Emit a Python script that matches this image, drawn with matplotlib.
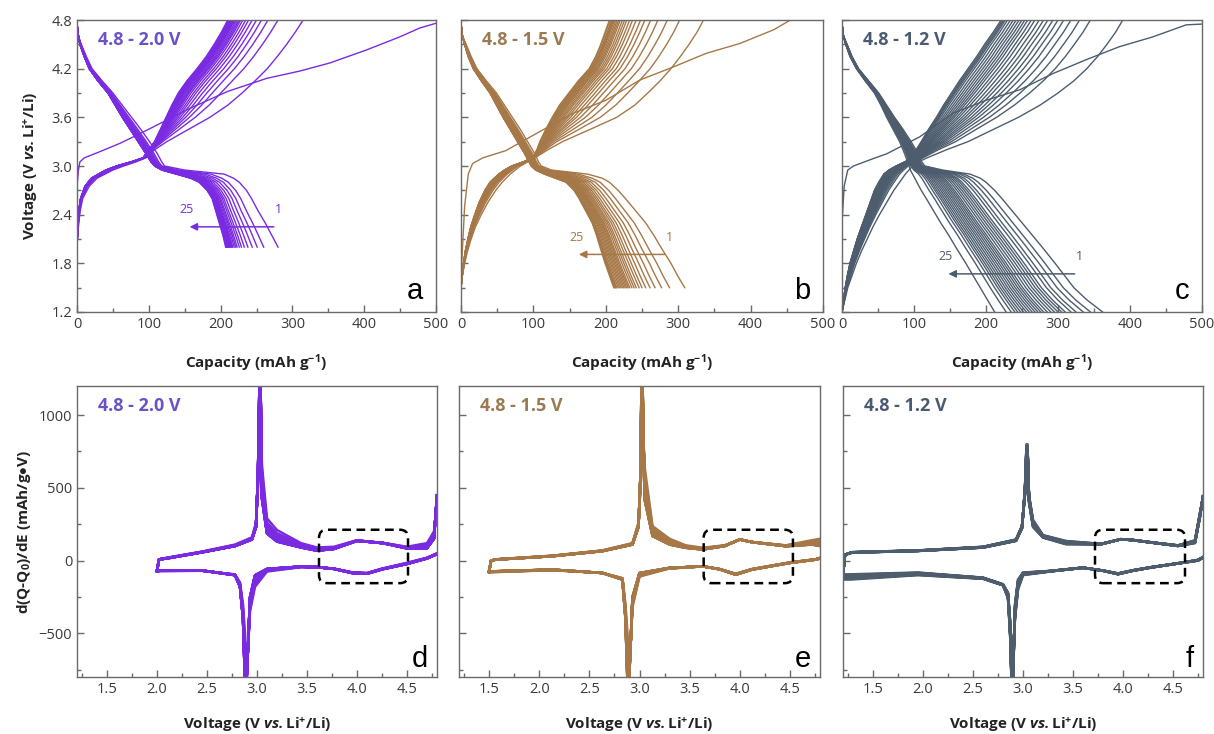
import numpy as np
import matplotlib
matplotlib.use("Agg")
import matplotlib.pyplot as plt
from matplotlib.patches import FancyBboxPatch
from matplotlib.ticker import MultipleLocator, FormatStrFormatter

plt.rcParams['font.family'] = ['Open Sans', 'DejaVu Sans']
plt.rcParams['mathtext.fontset'] = 'custom'
plt.rcParams['mathtext.rm'] = 'Open Sans'
plt.rcParams['mathtext.bf'] = 'Open Sans:bold'
plt.rcParams['mathtext.it'] = 'Open Sans:italic'
plt.rcParams['mathtext.bfit'] = 'Open Sans:italic:bold'

# ---- panel a: 4.8 - 2.0 V, capacity curves ----
a_first_cap = [0, 2, 4, 10, 30, 60, 97, 157, 210, 264, 310, 352, 403, 449, 477, 500]
a_first_v = [2.74, 2.95, 3.05, 3.10, 3.17, 3.28, 3.44, 3.71, 3.92, 4.08, 4.17, 4.27, 4.43, 4.59, 4.70, 4.76]
a_chg_v = [2.0, 2.15, 2.3, 2.45, 2.6, 2.75, 2.85, 2.95, 3.0, 3.05, 3.1, 3.2,
           3.3, 3.45, 3.6, 3.75, 3.9, 4.05, 4.2, 4.35, 4.5, 4.65, 4.8]
a_chg_early = [0, 1, 2.5, 4.5, 8, 17, 28, 50, 65, 82, 96, 108,
               125, 155, 185, 210, 230, 248, 265, 279, 292, 304, 315]
a_chg_late = [0, 0.5, 1.2, 2.5, 5, 11, 20, 40, 55, 75, 92, 100,
              108, 116, 124, 132, 141, 153, 167, 180, 191, 201, 210]
a_chg_end = [315, 280, 266, 257, 250, 244, 239, 235, 231, 228, 226, 224,
             222, 220, 219, 218, 217, 216, 215, 214, 213, 212, 211, 210]
a_dis_v = [4.75, 4.6, 4.5, 4.35, 4.2, 4.05, 3.9, 3.75, 3.6, 3.45, 3.3, 3.15,
           3.05, 3.0, 2.95, 2.9, 2.85, 2.8, 2.7, 2.6, 2.45, 2.3, 2.15, 2.0]
a_dis_first = [0, 2, 6, 13, 21, 35, 50, 63, 76, 89, 101, 112,
               118, 122, 150, 205, 218, 226, 236, 243, 252, 262, 271, 280]
a_dis_last = [0, 2, 4, 10, 17, 29, 43, 53, 63, 74, 85, 96,
              103, 108, 118, 138, 158, 170, 181, 188, 193, 198, 203, 207]
a_dis_end = [280, 260, 251, 244, 238, 233, 229, 226, 223, 221, 219, 217, 216,
             215, 214, 213, 212, 211, 210, 210, 209, 209, 208, 208, 207]

# ---- panel b: 4.8 - 1.5 V ----
b_first_cap = [0, 5, 10, 16, 30, 62, 108, 155, 200, 247, 293, 339, 385, 432, 455]
b_first_v = [1.63, 2.5, 2.9, 3.03, 3.1, 3.19, 3.42, 3.65, 3.81, 4.06, 4.22, 4.39, 4.51, 4.68, 4.8]
b_chg_v = [1.5, 1.65, 1.8, 1.95, 2.1, 2.25, 2.4, 2.55, 2.7, 2.8, 2.9, 2.95, 3.0, 3.05,
           3.1, 3.2, 3.3, 3.45, 3.6, 3.75, 3.9, 4.05, 4.2, 4.35, 4.5, 4.65, 4.8]
b_chg_early = [0, 2, 5, 9, 14, 20, 28, 37, 48, 57, 68, 75, 82, 92,
               102, 120, 140, 178, 215, 240, 258, 275, 290, 303, 315, 326, 335]
b_chg_late = [0, 1.5, 3.5, 6, 9.5, 13.5, 19, 25, 33, 40, 52, 60, 70, 86,
              99, 105, 109, 117, 126, 136, 149, 162, 177, 186, 193, 199, 205]
b_chg_end = [335, 302, 285, 272, 262, 254, 248, 242, 237, 233, 229, 226,
             223, 220, 218, 216, 214, 212, 211, 210, 209, 208, 206, 205]
b_dis_v = [4.75, 4.6, 4.5, 4.35, 4.2, 4.05, 3.9, 3.75, 3.6, 3.45, 3.3, 3.15, 3.05, 3.0,
           2.95, 2.9, 2.85, 2.8, 2.7, 2.6, 2.45, 2.3, 2.15, 2.0, 1.8, 1.65, 1.5]
b_dis_first = [0, 2, 7, 14, 22, 35, 49, 60, 71, 82, 92, 102, 107, 111,
               125, 175, 195, 205, 217, 227, 241, 255, 266, 276, 290, 299, 309]
b_dis_last = [0, 2, 5, 10, 17, 28, 40, 49, 58, 68, 78, 88, 94, 97,
              103, 115, 130, 145, 156, 163, 172, 181, 187, 192, 199, 205, 211]
b_dis_end = [309, 288, 277, 268, 261, 255, 250, 246, 242, 239, 236, 233, 231,
             229, 227, 225, 223, 221, 219, 217, 215, 214, 213, 212, 211]

# ---- panel c: 4.8 - 1.2 V ----
c_first_cap = [0, 3, 8, 16, 40, 62, 108, 154, 200, 247, 293, 339, 385, 431, 478, 500]
c_first_v = [2.3, 2.75, 2.95, 3.0, 3.08, 3.15, 3.36, 3.65, 3.81, 3.94, 4.14, 4.31, 4.47, 4.59, 4.74, 4.75]
c_chg_v = [1.2, 1.35, 1.5, 1.65, 1.8, 1.95, 2.1, 2.25, 2.4, 2.55, 2.7, 2.8, 2.9, 2.95, 3.0,
           3.05, 3.1, 3.2, 3.3, 3.45, 3.6, 3.75, 3.9, 4.05, 4.2, 4.35, 4.5, 4.65, 4.8]
c_chg_early = [0, 4, 8, 14, 20, 27, 35, 43, 52, 62, 72, 80, 88, 93, 98,
               106, 118, 145, 175, 210, 245, 275, 300, 322, 340, 355, 368, 380, 390]
c_chg_late = [0, 2, 4.5, 7.5, 11, 16, 21, 27, 33, 39, 45, 51, 58, 65, 75,
              87, 97, 103, 110, 120, 131, 141, 152, 163, 175, 187, 198, 210, 221]
c_chg_end = [390, 345, 330, 318, 308, 300, 293, 286, 280, 274, 268, 263,
             258, 254, 250, 246, 242, 238, 234, 230, 227, 225, 223, 221]
c_dis_v = [4.75, 4.6, 4.5, 4.35, 4.2, 4.05, 3.9, 3.75, 3.6, 3.45, 3.3, 3.15, 3.05, 3.0, 2.95,
           2.9, 2.85, 2.8, 2.7, 2.6, 2.45, 2.3, 2.15, 2.0, 1.8, 1.65, 1.5, 1.35, 1.2]
c_dis_first = [0, 2, 7, 14, 23, 37, 51, 62, 73, 85, 96, 106, 111, 115, 140,
               178, 192, 200, 212, 222, 236, 250, 264, 278, 296, 309, 322, 340, 362]
c_dis_last = [0, 2, 5, 11, 20, 32, 45, 54, 62, 71, 80, 87, 91, 93, 95,
              98, 101, 104, 110, 117, 127, 137, 148, 158, 172, 182, 192, 202, 212]
c_dis_end = [362, 345, 335, 325, 318, 310, 305, 300, 295, 290, 285, 280, 276,
             272, 268, 264, 260, 256, 252, 248, 244, 240, 235, 228, 212]

# ---- panel d: dQ/dV, 4.8 - 2.0 V ----
d_chg_v = [2.0, 2.02, 2.1, 2.45, 2.78, 2.95, 2.99, 3.01, 3.025, 3.035, 3.05, 3.1,
           3.2, 3.44, 3.6, 3.77, 4.0, 4.1, 4.26, 4.5, 4.7, 4.77, 4.8]
d_chg_late = [-70, 8, 15, 57, 100, 145, 230, 600, 1250, 1250, 420, 185,
              130, 90, 68, 80, 136, 130, 120, 84, 85, 150, 450]
d_chg_early = [-70, 8, 20, 62, 110, 160, 260, 500, 950, 1000, 650, 290,
               210, 120, 90, 95, 140, 132, 122, 95, 120, 200, 400]
d_dis_v = [4.8, 4.7, 4.5, 4.25, 4.1, 3.95, 3.77, 3.6, 3.44, 3.1, 2.98, 2.93, 2.91,
           2.895, 2.88, 2.86, 2.83, 2.78, 2.45, 2.03, 2.0]
d_dis_late = [45, 15, -23, -60, -90, -85, -57, -45, -41, -57, -100, -250, -600,
              -850, -850, -400, -180, -100, -68, -68, -70]
d_dis_early = [50, 20, -15, -55, -85, -80, -55, -45, -45, -75, -180, -350, -600,
               -700, -500, -300, -150, -95, -70, -72, -74]

# ---- panel e: dQ/dV, 4.8 - 1.5 V ----
e_chg_v = [1.5, 1.52, 1.57, 2.13, 2.63, 2.93, 2.99, 3.01, 3.02, 3.03, 3.05, 3.13,
           3.3, 3.46, 3.63, 3.85, 4.0, 4.12, 4.46, 4.72, 4.8]
e_chg_late = [-75, 0, 7, 30, 65, 110, 230, 600, 1250, 1250, 420, 168,
              110, 88, 76, 100, 145, 127, 99, 110, 100]
e_chg_early = [-75, 0, 9, 34, 70, 120, 260, 500, 950, 1000, 650, 237,
               150, 105, 88, 105, 145, 128, 105, 140, 150]
e_dis_v = [4.8, 4.76, 4.5, 4.12, 3.96, 3.8, 3.63, 3.29, 3.0, 2.93, 2.91, 2.895,
           2.88, 2.86, 2.83, 2.63, 2.13, 1.52, 1.5]
e_dis_late = [15, 7, -16, -62, -97, -60, -39, -51, -85, -250, -600, -850,
              -850, -400, -131, -85, -62, -74, -75]
e_dis_early = [20, 10, -12, -58, -90, -58, -40, -55, -110, -320, -600, -700,
               -500, -300, -120, -85, -66, -80, -82]

# ---- panel f: dQ/dV, 4.8 - 1.2 V ----
f_chg_v = [1.2, 1.22, 1.29, 1.95, 2.6, 2.93, 2.99, 3.02, 3.035, 3.045, 3.06, 3.1,
           3.2, 3.43, 3.78, 3.98, 4.1, 4.28, 4.55, 4.72, 4.77, 4.8]
f_chg_late = [-95, 40, 55, 66, 89, 135, 220, 500, 800, 800, 400, 230,
              158, 112, 112, 147, 140, 124, 100, 120, 300, 444]
f_chg_early = [-95, 40, 58, 70, 95, 145, 240, 450, 700, 720, 450, 280,
               175, 135, 115, 147, 142, 126, 105, 140, 330, 430]
f_dis_v = [4.8, 4.75, 4.55, 4.28, 4.1, 3.95, 3.8, 3.6, 3.27, 3.0, 2.95, 2.92, 2.9,
           2.885, 2.87, 2.85, 2.8, 2.6, 1.95, 1.28, 1.2]
f_dis_late = [20, 0, -20, -48, -70, -94, -70, -48, -71, -82, -130, -300, -850,
              -850, -400, -220, -163, -117, -82, -94, -95]
f_dis_early = [25, 5, -18, -45, -66, -88, -68, -50, -75, -100, -200, -400, -650,
               -700, -500, -260, -170, -125, -100, -130, -130]

# ---- text, colours ----
windows = ['4.8 - 2.0 V', '4.8 - 1.5 V', '4.8 - 1.2 V']
line_colors = ['#7a2be2', '#a67848', '#4d5d6e']
text_colors = ['#6b52c8', '#9b7a52', '#4a5a72']
top_letters = ['a', 'b', 'c']
bottom_letters = ['d', 'e', 'f']
arrow_caps = [(278, 153), (285, 159), (327, 144)]
arrow_volts = [2.25, 1.91, 1.67]

box_x = [(3.62, 4.51), (3.64, 4.53), (3.72, 4.62)]
box_y = (-155, 212)

vs_label = r'Voltage (V $\mathbfit{vs.}$Li$^{\mathbf{+}}$/Li)'
cap_label = r'Capacity (mAh g$^{\mathbf{-1}}$)'
dq_label = r'd(Q-Q$_{\mathbf{0}}$)/dE (mAh/g$\mathbf{\bullet}$V)'

top_data = [
    (a_first_cap, a_first_v, a_chg_v, a_chg_early, a_chg_late, a_chg_end,
     a_dis_v, a_dis_first, a_dis_last, a_dis_end),
    (b_first_cap, b_first_v, b_chg_v, b_chg_early, b_chg_late, b_chg_end,
     b_dis_v, b_dis_first, b_dis_last, b_dis_end),
    (c_first_cap, c_first_v, c_chg_v, c_chg_early, c_chg_late, c_chg_end,
     c_dis_v, c_dis_first, c_dis_last, c_dis_end),
]
bottom_data = [
    (d_chg_v, d_chg_early, d_chg_late, d_dis_v, d_dis_early, d_dis_late, a_dis_end),
    (e_chg_v, e_chg_early, e_chg_late, e_dis_v, e_dis_early, e_dis_late, b_dis_end),
    (f_chg_v, f_chg_early, f_chg_late, f_dis_v, f_dis_early, f_dis_late, c_dis_end),
]


def weights(ends):
    ends = np.asarray(ends, dtype=float)
    return (ends - ends[-1]) / (ends[0] - ends[-1])


def blend(early, late, w):
    early = np.asarray(early, dtype=float)
    late = np.asarray(late, dtype=float)
    return late + w * (early - late)


def style_axes(ax):
    for s in ax.spines.values():
        s.set_color('#6a6a6a')
        s.set_linewidth(1.0)
    ax.tick_params(which='both', direction='in', top=False, right=False,
                   colors='#6a6a6a', labelcolor='#3a3a3a', labelsize=10.5)
    ax.tick_params(which='major', length=5, width=1)
    ax.tick_params(which='minor', length=3, width=1)


fig = plt.figure(figsize=(12.14, 7.34), dpi=100)
W, H = 1214, 734
top_pos = [(77, 359), (461, 362), (842, 360)]
bot_pos = [(77, 360), (459, 361), (843, 360)]

for i in range(3):
    left, width = top_pos[i]
    ax = fig.add_axes([left / W, (H - 312) / H, width / W, 292 / H])
    (f_cap, f_v, chg_v, chg_e, chg_l, chg_end,
     dis_v, dis_f, dis_l, dis_end) = top_data[i]
    col = line_colors[i]

    for w in weights(chg_end):
        ax.plot(blend(chg_e, chg_l, w), chg_v, color=col, lw=1.0)
    for w in weights(dis_end):
        ax.plot(blend(dis_f, dis_l, w), dis_v, color=col, lw=1.0)
    ax.plot(f_cap, f_v, color=col, lw=1.0)

    x1, x0 = arrow_caps[i]
    yv = arrow_volts[i]
    ax.annotate('', xy=(x0, yv), xytext=(x1, yv),
                arrowprops=dict(arrowstyle='-|>', color=col, lw=1.1,
                                mutation_scale=11))
    ax.text(x0, yv + 0.13, '25', color=col, fontsize=9, ha='center', va='bottom')
    ax.text(x1 + 3, yv + 0.13, '1', color=col, fontsize=9, ha='center', va='bottom')

    ax.text(0.058, 0.93, windows[i], transform=ax.transAxes, color=text_colors[i],
            fontsize=13, fontweight='bold', ha='left', va='center')
    ax.text(0.965, 0.045, top_letters[i], transform=ax.transAxes, color='black',
            fontsize=21, family='Liberation Sans', ha='right', va='baseline')

    ax.set_xlim(0, 500)
    ax.set_ylim(1.2, 4.8)
    ax.xaxis.set_major_locator(MultipleLocator(100))
    ax.xaxis.set_minor_locator(MultipleLocator(50))
    ax.yaxis.set_major_locator(MultipleLocator(0.6))
    ax.yaxis.set_minor_locator(MultipleLocator(0.3))
    ax.yaxis.set_major_formatter(FormatStrFormatter('%.1f'))
    style_axes(ax)
    ax.set_xlabel(cap_label, fontsize=11, fontweight='bold', color='#222222',
                  labelpad=15)
    if i == 0:
        ax.set_ylabel(vs_label, fontsize=11, fontweight='bold', color='#222222',
                      labelpad=8)
    else:
        ax.set_yticklabels([])

for i in range(3):
    left, width = bot_pos[i]
    ax = fig.add_axes([left / W, (H - 677) / H, width / W, 291 / H])
    chg_v, chg_e, chg_l, dis_v, dis_e, dis_l, ends = bottom_data[i]
    col = line_colors[i]

    for w in weights(ends):
        ax.plot(chg_v, blend(chg_e, chg_l, w), color=col, lw=1.8)
        ax.plot(dis_v, blend(dis_e, dis_l, w), color=col, lw=1.8)

    bx0, bx1 = box_x[i]
    box = FancyBboxPatch((bx0, box_y[0]), bx1 - bx0, box_y[1] - box_y[0],
                         boxstyle='round,pad=0,rounding_size=0.08',
                         mutation_aspect=687, fill=False, ec='black',
                         lw=1.8, ls=(0, (3.5, 2.2)), zorder=5)
    ax.add_patch(box)

    ax.text(0.058, 0.93, windows[i], transform=ax.transAxes, color=text_colors[i],
            fontsize=13, fontweight='bold', ha='left', va='center')
    ax.text(0.975, 0.034, bottom_letters[i], transform=ax.transAxes, color='black',
            fontsize=21, family='Liberation Sans', ha='right', va='baseline')

    ax.set_xlim(1.2, 4.8)
    ax.set_ylim(-800, 1200)
    ax.xaxis.set_major_locator(MultipleLocator(0.5))
    ax.xaxis.set_minor_locator(MultipleLocator(0.25))
    ax.xaxis.set_major_formatter(FormatStrFormatter('%.1f'))
    ax.yaxis.set_major_locator(MultipleLocator(500))
    ax.yaxis.set_minor_locator(MultipleLocator(250))
    style_axes(ax)
    ax.set_xlabel(vs_label, fontsize=11, fontweight='bold', color='#222222',
                  labelpad=13)
    if i == 0:
        ax.set_ylabel(dq_label, fontsize=11, fontweight='bold', color='#222222',
                      labelpad=4)
    else:
        ax.set_yticklabels([])

fig.savefig('out.png', dpi=100)
